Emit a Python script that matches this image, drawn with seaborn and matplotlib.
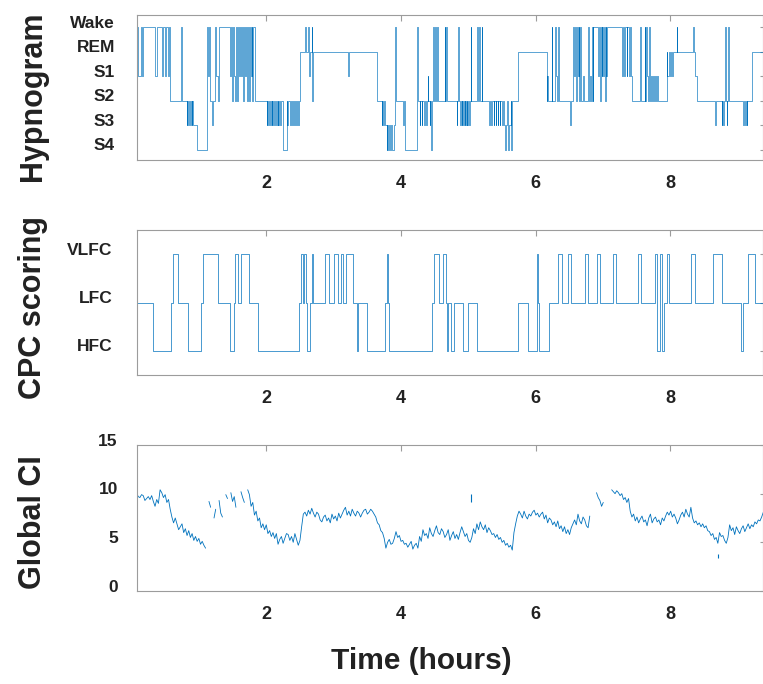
import matplotlib
matplotlib.use("Agg")
import matplotlib.pyplot as plt
import matplotlib.transforms as mtransforms
import numpy as np
import pandas as pd
import seaborn as sns

# hypnogram: time (hours) at which each stage starts, stage code per row of 10
hyp_t = [
    0.080, 0.090, 0.105, 0.150, 0.160, 0.178, 0.350, 0.378, 0.452, 0.480,
    0.500, 0.520, 0.540, 0.555, 0.575, 0.745, 0.755, 0.823, 0.835, 0.848,
    0.860, 0.872, 0.885, 0.897, 0.910, 0.922, 0.971, 1.120, 1.140, 1.150,
    1.169, 1.200, 1.210, 1.240, 1.260, 1.290, 1.310, 1.466, 1.480, 1.495,
    1.510, 1.525, 1.540, 1.555, 1.570, 1.580, 1.600, 1.615, 1.630, 1.650,
    1.665, 1.680, 1.690, 1.705, 1.720, 1.735, 1.750, 1.765, 1.780, 1.790,
    1.800, 1.815, 1.837, 2.010, 2.022, 2.035, 2.047, 2.060, 2.072, 2.085,
    2.097, 2.110, 2.122, 2.135, 2.147, 2.160, 2.172, 2.185, 2.197, 2.215,
    2.230, 2.257, 2.307, 2.320, 2.335, 2.350, 2.365, 2.380, 2.395, 2.410,
    2.425, 2.440, 2.455, 2.470, 2.485, 2.505, 2.579, 2.590, 2.628, 2.640,
    2.655, 2.677, 2.685, 2.700, 3.222, 3.235, 3.642, 3.716, 3.725, 3.740,
    3.750, 3.765, 3.790, 3.800, 3.815, 3.830, 3.845, 3.860, 3.875, 3.895,
    3.914, 3.925, 4.035, 4.045, 4.062, 4.245, 4.255, 4.280, 4.290, 4.310,
    4.320, 4.340, 4.355, 4.370, 4.385, 4.400, 4.410, 4.430, 4.440, 4.455,
    4.465, 4.480, 4.490, 4.505, 4.520, 4.540, 4.550, 4.650, 4.660, 4.675,
    4.685, 4.829, 4.840, 4.854, 4.862, 4.885, 4.895, 4.905, 4.915, 4.928,
    4.940, 4.950, 4.960, 4.970, 4.980, 4.990, 5.000, 5.010, 5.030, 5.040,
    5.050, 5.136, 5.145, 5.160, 5.170, 5.180, 5.200, 5.210, 5.310, 5.320,
    5.345, 5.355, 5.380, 5.390, 5.410, 5.420, 5.440, 5.450, 5.470, 5.480,
    5.500, 5.520, 5.530, 5.546, 5.560, 5.575, 5.590, 5.596, 5.610, 5.630,
    5.640, 5.650, 5.744, 6.165, 6.175, 6.190, 6.239, 6.250, 6.288, 6.300,
    6.315, 6.338, 6.350, 6.511, 6.520, 6.560, 6.575, 6.585, 6.600, 6.610,
    6.625, 6.640, 6.650, 6.665, 6.680, 6.700, 6.720, 6.783, 6.795, 6.810,
    6.825, 6.840, 6.850, 6.857, 6.930, 6.940, 6.955, 6.965, 6.980, 6.990,
    7.000, 7.015, 7.030, 7.040, 7.050, 7.060, 7.290, 7.300, 7.310, 7.325,
    7.350, 7.360, 7.380, 7.395, 7.410, 7.426, 7.550, 7.560, 7.620, 7.630,
    7.645, 7.655, 7.670, 7.685, 7.695, 7.710, 7.725, 7.740, 7.755, 7.770,
    7.785, 7.800, 7.815, 7.945, 7.955, 7.975, 7.990, 8.010, 8.030, 8.045,
    8.094, 8.104, 8.341, 8.350, 8.365, 8.390, 8.662, 8.675, 8.761, 8.770,
    8.786, 8.795, 8.811, 8.820, 8.836, 8.845, 8.860, 8.870, 9.083, 9.093,
    9.110, 9.120, 9.135, 9.145, 9.207, 9.375,
]
hyp_stage = list(
    "1W1W1W1W1W" "1W1W2W2323" "2323234W1W" "232W12W1W2" "W12W2W1W1W"
    "2W1W2W2W1W" "2W23232323" "2323232323" "2423232323" "23232RWRW1"
    "RW2R1R2323" "2343434343" "W2324W2323" "2323212324" "2W2W2W2W2W"
    "232W232323" "232323232W" "2W2W12W232" "3232323232" "3234323432"
    "42R212W2W1" "2W232W1W2W" "1W2W212W21" "2W2W1W2W1W" "1W2W1W1W1W"
    "1W1W12W2W2" "W12W212121" "212R1R1R1R" "WRWR123232" "32W232W232"
    "3232RR"
)
stage_labels = ["S4", "S3", "S2", "S1", "REM", "Wake"]
stage_codes = ["4", "3", "2", "1", "R", "W"]

# CPC scoring: change times and class (V=VLFC, L=LFC, H=HFC)
cpc_t = [
    0.081, 0.328, 0.585, 0.615, 0.699, 0.848, 1.035, 1.060, 1.293, 1.466,
    1.525, 1.545, 1.590, 1.624, 1.753, 1.876, 2.495, 2.514, 2.544, 2.564,
    2.589, 2.603, 2.653, 2.677, 2.692, 2.875, 2.935, 3.009, 3.073, 3.108,
    3.147, 3.187, 3.296, 3.345, 3.370, 3.494, 3.766, 3.790, 3.815, 3.830,
    4.458, 4.493, 4.572, 4.631, 4.668, 4.680, 4.705, 4.750, 4.790, 4.918,
    4.993, 5.126, 5.744, 5.893, 6.021, 6.030, 6.045, 6.205, 6.338, 6.387,
    6.487, 6.527, 6.734, 6.774, 6.907, 6.956, 7.154, 7.193, 7.525, 7.564,
    7.772, 7.797, 7.846, 7.871, 7.910, 7.945, 7.980, 8.301, 8.366, 8.628,
    8.762, 9.043, 9.083, 9.157, 9.256, 9.375,
]
cpc_class = list(
    "LHLVLHLVLH" "LVLVLHLVLV" "LHLVLVLVLV" "LVLHLHLVLH" "LVLVLHLHLH"
    "LHLHVLHLVL" "VLVLVLVLVL" "VHVHLVLVLV" "LHLVLL"
)
cpc_labels = ["HFC", "LFC", "VLFC"]
cpc_codes = ["H", "L", "V"]

# Global CI sampled every 0.025 h from 0.08 h (nan = gap in the trace)
ci_start, ci_step = 0.08, 0.025
nan = np.nan
ci_vals = [
    10.1, 9.7, 9.6, 9.9, 9.8, 9.3, 9.5, 9.7, 9.4, 9.8, 9.2, 8.7, 9.4, 9.0, 10.4, 10.1, 9.6, 9.9, 9.1, 9.4,
    8.4, 7.6, 7.0, 7.5, 6.9, 6.3, 6.6, 6.9, 6.0, 6.4, 5.7, 6.2, 5.5, 5.9, 5.2, 5.6, 5.1, 5.4, 4.8, 5.1,
    4.7, 4.4, nan, 9.2, 8.6, nan, 7.5, 8.4, nan, 9.3, 8.0, 7.6, nan, 9.9, 9.5, nan, 10.1, 9.2, 9.7, 8.6,
    nan, nan, 10.2, 9.6, 9.1, nan, 10.4, 9.9, 8.7, 9.1, 7.8, 8.2, 7.2, 7.5, 6.5, 6.9, 6.3, 6.8, 5.9, 6.2,
    5.6, 6.0, 5.4, 5.9, 4.8, 5.3, 5.6, 4.9, 5.4, 5.9, 5.8, 5.2, 5.6, 5.0, 5.9, 5.3, 4.7, 5.2, 6.6, 7.9,
    8.1, 7.7, 8.3, 7.9, 8.5, 8.0, 7.6, 8.1, 7.9, 7.3, 7.1, 7.6, 7.8, 7.2, 7.5, 7.0, 7.9, 7.4, 7.7, 7.2,
    8.0, 7.5, 7.9, 8.3, 8.6, 7.8, 8.2, 7.7, 8.4, 8.0, 7.7, 8.2, 8.0, 7.6, 8.0, 8.3, 8.4, 7.9, 8.1, 8.4,
    8.2, 7.9, 7.6, 7.0, 6.8, 6.2, 6.0, 5.4, 4.4, 5.0, 5.3, 4.8, 4.9, 5.4, 6.1, 5.5, 5.7, 5.1, 5.2, 4.8,
    4.9, 4.5, 4.8, 5.1, 4.3, 4.7, 4.9, 4.4, 5.6, 5.1, 6.3, 5.7, 5.9, 5.4, 6.5, 5.9, 5.6, 6.2, 6.7, 6.0,
    5.8, 6.4, 6.1, 5.5, 5.8, 6.3, 5.2, 5.7, 6.1, 5.4, 5.8, 5.3, 6.0, 6.6, 6.1, 5.6, 5.9, 5.2, 5.0, 5.5,
    6.4, 5.9, 6.9, 6.3, 7.1, 6.6, 6.3, 6.8, 6.0, 6.5, 6.2, 5.8, 5.9, 5.5, 5.8, 5.3, 5.5, 5.0, 5.2, 4.7,
    4.9, 4.5, 4.7, 4.2, 6.0, 6.9, 7.7, 8.2, 7.9, 7.5, 8.2, 7.7, 7.4, 7.9, 7.7, 8.1, 8.3, 7.8, 8.0, 7.6,
    7.9, 8.1, 7.4, 7.8, 7.0, 7.5, 7.3, 6.8, 7.1, 6.6, 7.2, 6.4, 6.7, 6.1, 6.6, 5.9, 6.3, 5.8, 6.5, 6.9,
    7.3, 6.8, 7.9, 7.2, 6.9, 7.6, 7.3, 6.7, 6.5, 7.7, nan, nan, nan, 10.1, 9.6, 9.3, 8.7, 9.1, nan, nan,
    nan, nan, 10.4, 10.2, 10.0, 10.3, 10.1, 9.8, 10.0, 9.4, 9.6, 9.1, 9.5, 8.2, 7.6, 7.9, 7.2, 7.6, 7.0, 7.4,
    7.7, 7.1, 7.3, 6.7, 7.5, 7.9, 7.0, 7.4, 7.6, 7.1, 7.3, 6.8, 7.5, 7.2, 7.7, 8.1, 7.8, 8.2, 7.6, 7.9,
    7.5, 6.9, 7.3, 7.8, 8.1, 7.6, 8.4, 7.9, 7.6, 8.6, 7.5, 7.0, 7.2, 6.8, 7.0, 6.6, 6.9, 6.5, 6.7, 6.2,
    6.1, 5.7, 5.9, 5.3, 5.5, 4.9, 6.0, 5.6, 5.7, 5.2, 4.9, 5.5, 6.8, 6.2, 6.5, 5.8, 6.6, 6.2, 5.9, 6.4,
    6.7, 6.1, 6.5, 6.9, 6.4, 6.8, 6.6, 7.1, 6.9, 7.3, 7.2, 7.6, 8.1,
]
# isolated short CI blips
blip_t = [5.05, 8.70]
blip_lo = [9.1, 3.4]
blip_hi = [10.0, 3.85]
ci_ticks = [0, 5, 10, 15]

hour_ticks = [2, 4, 6, 8]
x_range = (0.08, 9.375)

blue = "#0072BD"
frame = "#9c9c9c"
txt = "#222222"

sns.set_style("white")
plt.rcParams["font.family"] = ["Liberation Sans", "DejaVu Sans"]
plt.rcParams["font.weight"] = "bold"

fig = plt.figure(figsize=(7.63, 6.84), dpi=100)
W, H = 763.0, 684.0


def px_axes(left, top, right, bottom):
    return fig.add_axes([left / W, 1 - bottom / H, (right - left) / W, (bottom - top) / H])


ax_h = px_axes(136.5, 15, 763, 160)
ax_c = px_axes(136.5, 230, 763, 375)
ax_g = px_axes(136.5, 445, 763, 591)

hyp = pd.DataFrame({"t": hyp_t, "level": [stage_codes.index(s) for s in hyp_stage]})
sns.lineplot(data=hyp, x="t", y="level", ax=ax_h, estimator=None, drawstyle="steps-post",
             color=blue, linewidth=0.45)

cpc = pd.DataFrame({"t": cpc_t, "level": [cpc_codes.index(c) + 1 for c in cpc_class]})
sns.lineplot(data=cpc, x="t", y="level", ax=ax_c, estimator=None, drawstyle="steps-post",
             color=blue, linewidth=0.5)

ci = pd.DataFrame({"t": ci_start + ci_step * np.arange(len(ci_vals)), "ci": ci_vals})
ci["seg"] = ci["ci"].isna().cumsum()
ci = ci.dropna()
sns.lineplot(data=ci, x="t", y="ci", units="seg", ax=ax_g, estimator=None,
             color=blue, linewidth=0.6)
ax_g.vlines(blip_t, blip_lo, blip_hi, color=blue, linewidth=0.8)

ax_h.set_ylim(-0.43, 5.51)
ax_h.set_yticks(range(len(stage_labels)))
ax_h.set_yticklabels(stage_labels)
ax_c.set_ylim(0.5, 3.5)
ax_c.set_yticks([1, 2, 3])
ax_c.set_yticklabels(cpc_labels)
ax_g.set_ylim(0, 15)
ax_g.set_yticks(ci_ticks)

lift = mtransforms.ScaledTranslation(0, 5.5 / 100, fig.dpi_scale_trans)
for ax, ypad in [(ax_h, 15.5), (ax_c, 17.5), (ax_g, 13.5)]:
    ax.set_xlim(*x_range)
    ax.set_xticks(hour_ticks)
    ax.set_xlabel("")
    ax.set_ylabel("")
    ax.tick_params(axis="x", direction="in", length=4.3, width=0.8, color=frame, top=True,
                   pad=11, labelsize=13, labelcolor=txt)
    ax.tick_params(axis="y", direction="in", length=2.5, width=0.8, color=frame, right=True,
                   pad=ypad, labelsize=12.5, labelcolor=txt)
    for sp in ax.spines.values():
        sp.set_color(frame)
        sp.set_linewidth(0.8)
    for lab in ax.get_yticklabels():
        lab.set_transform(lab.get_transform() + lift)

fig.text(33 / W, 1 - 96 / H, "Hypnogram", rotation=90, ha="center", va="center",
         fontsize=22, fontweight="bold", color=txt)
fig.text(33 / W, 1 - 308 / H, "CPC scoring", rotation=90, ha="center", va="center",
         fontsize=22, fontweight="bold", color=txt)
fig.text(33 / W, 1 - 522 / H, "Global CI", rotation=90, ha="center", va="center",
         fontsize=22, fontweight="bold", color=txt)
fig.text(421 / W, 1 - 661 / H, "Time (hours)", ha="center", va="center",
         fontsize=21.5, fontweight="bold", color=txt)

fig.savefig("out.png", dpi=100)
